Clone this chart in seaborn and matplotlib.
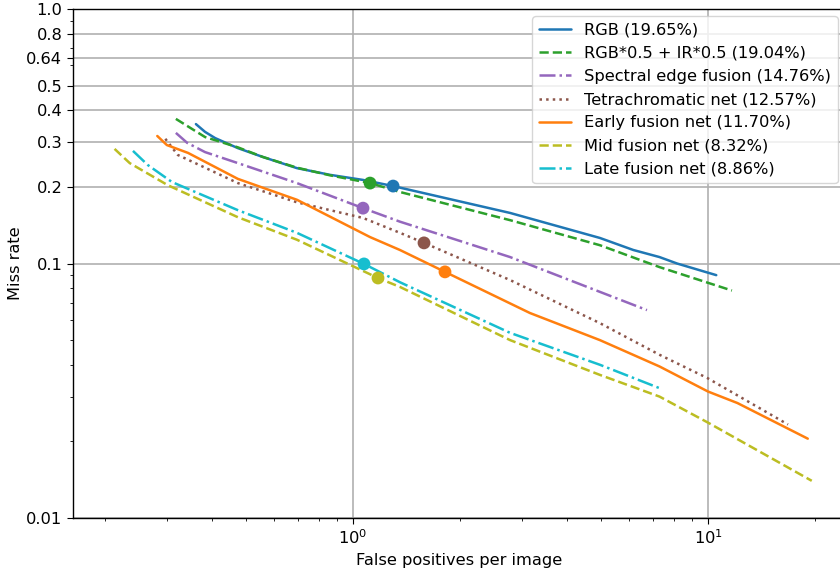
import numpy as np
import matplotlib
matplotlib.use('Agg')
import matplotlib.pyplot as plt
from matplotlib.ticker import FixedLocator, FixedFormatter, LogLocator, NullFormatter
import seaborn as sns

# curves (false positives per image vs miss rate)
rgb_x = [0.361, 0.383, 0.409, 0.474, 0.558, 0.695, 0.862, 1.067, 1.297, 2.77, 4.96, 6.16, 7.3, 8.18, 10.55]
rgb_y = [0.353, 0.329, 0.311, 0.284, 0.262, 0.237, 0.223, 0.213, 0.2015, 0.158, 0.126, 0.113, 0.106, 0.100, 0.090]

mix_x = [0.317, 0.383, 0.474, 0.558, 0.695, 0.862, 1.117, 1.356, 2.77, 4.96, 7.3, 11.68]
mix_y = [0.370, 0.314, 0.286, 0.262, 0.238, 0.222, 0.207, 0.191, 0.148, 0.118, 0.0968, 0.0783]

edge_x = [0.317, 0.341, 0.383, 0.474, 0.695, 1.067, 1.356, 2.77, 6.73]
edge_y = [0.326, 0.298, 0.274, 0.248, 0.207, 0.165, 0.146, 0.106, 0.0656]

tetra_x = [0.296, 0.321, 0.474, 0.695, 1.067, 1.356, 1.585, 2.77, 4.96, 7.3, 9.95, 16.8]
tetra_y = [0.309, 0.267, 0.207, 0.174, 0.151, 0.132, 0.1205, 0.0861, 0.0583, 0.0438, 0.0355, 0.0233]

early_x = [0.281, 0.299, 0.343, 0.474, 0.695, 1.117, 1.356, 1.816, 3.15, 4.96, 7.3, 10.0, 12.1, 19.1]
early_y = [0.317, 0.292, 0.272, 0.215, 0.178, 0.127, 0.113, 0.0927, 0.0639, 0.050, 0.0394, 0.0314, 0.0283, 0.0205]

mid_x = [0.213, 0.235, 0.301, 0.474, 0.695, 1.176, 1.356, 2.77, 4.96, 7.3, 10.0, 19.6]
mid_y = [0.282, 0.248, 0.203, 0.152, 0.124, 0.0877, 0.0809, 0.050, 0.0365, 0.0300, 0.0237, 0.0140]

late_x = [0.240, 0.264, 0.309, 0.474, 0.695, 1.074, 1.356, 2.77, 4.96, 7.29]
late_y = [0.277, 0.244, 0.209, 0.162, 0.132, 0.0996, 0.0844, 0.0534, 0.040, 0.0324]

labels = ['RGB (19.65%)', 'RGB*0.5 + IR*0.5 (19.04%)', 'Spectral edge fusion (14.76%)',
          'Tetrachromatic net (12.57%)', 'Early fusion net (11.70%)',
          'Mid fusion net (8.32%)', 'Late fusion net (8.86%)']

# operating points marked on each curve
mark_x = [1.297, 1.117, 1.067, 1.585, 1.816, 1.176, 1.074]
mark_y = [0.2015, 0.207, 0.165, 0.1205, 0.0927, 0.0877, 0.0996]

ytick_vals = [0.01, 0.1, 0.2, 0.3, 0.4, 0.5, 0.64, 0.8, 1.0]
ytick_labels = ['0.01', '0.1', '0.2', '0.3', '0.4', '0.5', '0.64', '0.8', '1.0']

sns.set_style('ticks', {'axes.edgecolor': 'black', 'xtick.color': 'black', 'ytick.color': 'black',
                        'text.color': 'black', 'axes.labelcolor': 'black'})
plt.rcParams['font.family'] = ['DejaVu Sans']
plt.rcParams['font.size'] = 11.7
plt.rcParams['xtick.major.size'] = 4.2
plt.rcParams['ytick.major.size'] = 4.2
plt.rcParams['xtick.minor.size'] = 2.4
plt.rcParams['ytick.minor.size'] = 2.4
plt.rcParams['axes.linewidth'] = 1.0

tab = sns.color_palette('tab10')
colors = [tab[0], tab[2], tab[4], tab[5], tab[1], tab[8], tab[9]]
styles = ['-', '--', '-.', ':', '-', '--', '-.']
curves = [(rgb_x, rgb_y), (mix_x, mix_y), (edge_x, edge_y), (tetra_x, tetra_y),
          (early_x, early_y), (mid_x, mid_y), (late_x, late_y)]

fig = plt.figure(figsize=(8.4, 5.7), dpi=100)
ax = fig.add_axes([73 / 840, 1 - 518 / 570, (845 - 73) / 840, (518 - 9) / 570])

for (cx, cy), c, ls, lab in zip(curves, colors, styles, labels):
    sns.lineplot(x=cx, y=cy, color=c, linestyle=ls, linewidth=1.8, label=lab,
                 sort=False, estimator=None, ax=ax)

for i in range(len(mark_x)):
    sns.scatterplot(x=[mark_x[i]], y=[mark_y[i]], color=colors[i], s=85,
                    edgecolor='none', ax=ax, legend=False, zorder=3)

ax.set_xscale('log')
ax.set_yscale('log')
ax.set_xlim(10 ** ((73 - 353) / 355), 10 ** ((845 - 353) / 355))
ax.set_ylim(0.01, 1.0)

ax.yaxis.set_major_locator(FixedLocator(ytick_vals))
ax.yaxis.set_major_formatter(FixedFormatter(ytick_labels))
ax.yaxis.set_minor_locator(LogLocator(base=10, subs=np.arange(2, 10)))
ax.yaxis.set_minor_formatter(NullFormatter())
ax.xaxis.set_minor_formatter(NullFormatter())

ax.grid(True, which='major', color='#b0b0b0', linewidth=1.2)
ax.set_axisbelow(True)
ax.set_xlabel('False positives per image')
ax.set_ylabel('Miss rate', labelpad=2)

ax.legend(loc='upper right', fontsize=11.7, framealpha=0.8, edgecolor='#cccccc', fancybox=True,
          borderaxespad=0.45)

fig.savefig('out.png', dpi=100)
